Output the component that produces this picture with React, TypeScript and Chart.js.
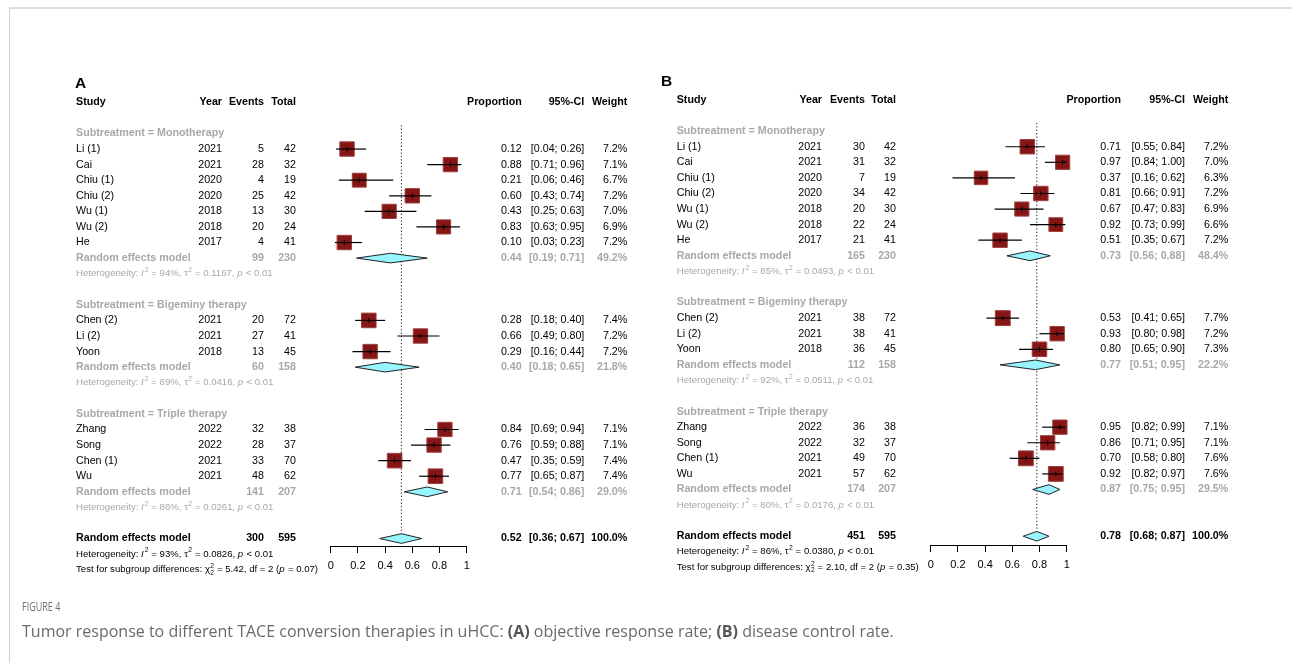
import React, { useEffect, useRef } from "react";
import { Chart, registerables } from "chart.js";
Chart.register(...registerables);

// ---------------- DATA ----------------
const studies = ["Li (1)", "Cai", "Chiu (1)", "Chiu (2)", "Wu (1)", "Wu (2)", "He", "Chen (2)", "Li (2)", "Yoon", "Zhang", "Song", "Chen (1)", "Wu"];
const years = [2021, 2021, 2020, 2020, 2018, 2018, 2017, 2021, 2021, 2018, 2022, 2022, 2021, 2021];
const totals = [42, 32, 19, 42, 30, 24, 41, 72, 41, 45, 38, 37, 70, 62];
const groupNames = ["Monotherapy", "Bigeminy therapy", "Triple therapy"];
const groupSizes = [7, 3, 4];
const subTotals = [230, 158, 207];
const overallTotal = 595;
const axisTicks = [0, 0.2, 0.4, 0.6, 0.8, 1];

// Panel A: objective response rate
const eventsA = [5, 28, 4, 25, 13, 20, 4, 20, 27, 13, 32, 28, 33, 48];
const propA = [0.12, 0.88, 0.21, 0.60, 0.43, 0.83, 0.10, 0.28, 0.66, 0.29, 0.84, 0.76, 0.47, 0.77];
const loA = [0.04, 0.71, 0.06, 0.43, 0.25, 0.63, 0.03, 0.18, 0.49, 0.16, 0.69, 0.59, 0.35, 0.65];
const hiA = [0.26, 0.96, 0.46, 0.74, 0.63, 0.95, 0.23, 0.40, 0.80, 0.44, 0.94, 0.88, 0.59, 0.87];
const weightA = [7.2, 7.1, 6.7, 7.2, 7.0, 6.9, 7.2, 7.4, 7.2, 7.2, 7.1, 7.1, 7.4, 7.4];
const subEventsA = [99, 60, 141];
const subPropA = [0.44, 0.40, 0.71];
const subLoA = [0.19, 0.18, 0.54];
const subHiA = [0.71, 0.65, 0.86];
const subWeightA = [49.2, 21.8, 29.0];
const subI2A = ["94%", "89%", "86%"];
const subTau2A = ["0.1167", "0.0416", "0.0261"];
const overallA = [300, 0.52, 0.36, 0.67, 100.0]; // events, prop, lo, hi, weight
const overallHetA = ["93%", "0.0826"];
const testA = ["5.42", "2", "0.07"]; // chi2, df, p

// Panel B: disease control rate
const eventsB = [30, 31, 7, 34, 20, 22, 21, 38, 38, 36, 36, 32, 49, 57];
const propB = [0.71, 0.97, 0.37, 0.81, 0.67, 0.92, 0.51, 0.53, 0.93, 0.80, 0.95, 0.86, 0.70, 0.92];
const loB = [0.55, 0.84, 0.16, 0.66, 0.47, 0.73, 0.35, 0.41, 0.80, 0.65, 0.82, 0.71, 0.58, 0.82];
const hiB = [0.84, 1.00, 0.62, 0.91, 0.83, 0.99, 0.67, 0.65, 0.98, 0.90, 0.99, 0.95, 0.80, 0.97];
const weightB = [7.2, 7.0, 6.3, 7.2, 6.9, 6.6, 7.2, 7.7, 7.2, 7.3, 7.1, 7.1, 7.6, 7.6];
const subEventsB = [165, 112, 174];
const subPropB = [0.73, 0.77, 0.87];
const subLoB = [0.56, 0.51, 0.75];
const subHiB = [0.88, 0.95, 0.95];
const subWeightB = [48.4, 22.2, 29.5];
const subI2B = ["85%", "92%", "80%"];
const subTau2B = ["0.0493", "0.0511", "0.0176"];
const overallB = [451, 0.78, 0.68, 0.87, 100.0];
const overallHetB = ["86%", "0.0380"];
const testB = ["2.10", "2", "0.35"];

// ---------------- STYLE / LAYOUT ----------------
const FAM = "'Liberation Sans', Arial, Helvetica, sans-serif";
const GRAY = "#a8a8a8";
const ROW = 15.58;
const CW = 646;
const CH = 663;

const geomA = { left: 0, label: "A", labelX: 75, top: 102.3, axisY: 546, ax0: 330.7, ax1: 466.7, studyX: 76, yearR: 222, evR: 264, totR: 296, propR: 521.7, ciR: 584.3, wR: 627.3 };
const geomB = { left: 600, label: "B", labelX: 61, top: 100, axisY: 545, ax0: 330.7, ax1: 466.7, studyX: 76.7, yearR: 222, evR: 265, totR: 296, propR: 521, ciR: 585, wR: 628.3 };

const panelA = { events: eventsA, prop: propA, lo: loA, hi: hiA, weight: weightA, subEvents: subEventsA, subProp: subPropA, subLo: subLoA, subHi: subHiA, subWeight: subWeightA, subI2: subI2A, subTau2: subTau2A, overall: overallA, overallHet: overallHetA, test: testA };
const panelB = { events: eventsB, prop: propB, lo: loB, hi: hiB, weight: weightB, subEvents: subEventsB, subProp: subPropB, subLo: subLoB, subHi: subHiB, subWeight: subWeightB, subI2: subI2B, subTau2: subTau2B, overall: overallB, overallHet: overallHetB, test: testB };

function computeRows() {
  const groups: any[] = [];
  const studyRow: number[] = [];
  let r = 2;
  let s = 0;
  groupSizes.forEach((n) => {
    const g: any = { head: r, re: r + 1 + n, het: r + 2 + n };
    for (let k = 0; k < n; k++) studyRow[s++] = r + 1 + k;
    groups.push(g);
    r = r + n + 4;
  });
  return { groups, studyRow, overall: r, overallHet: r + 1, test: r + 2 };
}

function font(size: number, bold = false, italic = false) {
  return `${italic ? "italic " : ""}${bold ? "bold " : ""}${size}px ${FAM}`;
}

function txt(ctx: CanvasRenderingContext2D, s: string, x: number, y: number, align: CanvasTextAlign, f: string, color: string) {
  ctx.font = f;
  ctx.fillStyle = color;
  ctx.textAlign = align;
  ctx.textBaseline = "middle";
  ctx.fillText(s, x, y);
}

type Run = { t?: string; it?: boolean; sup?: string; sub?: string };
function rich(ctx: CanvasRenderingContext2D, runs: Run[], x: number, y: number, size: number, color: string) {
  ctx.fillStyle = color;
  ctx.textBaseline = "middle";
  ctx.textAlign = "left";
  let cx = x;
  for (const r of runs) {
    if (r.t !== undefined) {
      ctx.font = font(size, false, !!r.it);
      ctx.fillText(r.t, cx, y);
      cx += ctx.measureText(r.t).width + (r.it ? 0.6 : 0);
    } else {
      const ss = size * 0.7;
      ctx.font = font(ss);
      let w = 0;
      if (r.sup) {
        ctx.fillText(r.sup, cx + 0.4, y - size * 0.38);
        w = Math.max(w, ctx.measureText(r.sup).width);
      }
      if (r.sub) {
        ctx.fillText(r.sub, cx + 0.4, y + size * 0.32);
        w = Math.max(w, ctx.measureText(r.sub).width);
      }
      cx += w + 0.6;
    }
  }
}

const f2 = (v: number) => v.toFixed(2);
const ci = (lo: number, hi: number) => `[${f2(lo)}; ${f2(hi)}]`;
const pct = (w: number) => `${w.toFixed(1)}%`;

function textPlugin(p: any, g: any) {
  return {
    id: "forestText",
    afterDraw(chart: any) {
      const ctx: CanvasRenderingContext2D = chart.ctx;
      const ys = chart.scales.y;
      const Y = (r: number) => ys.getPixelForValue(r);
      const rows = computeRows();
      const S = 10.7;
      ctx.save();
      txt(ctx, g.label, g.labelX, Y(-1.2), "left", font(15.5, true), "#000");
      const hy = Y(0);
      const hb = font(S, true);
      txt(ctx, "Study", g.studyX, hy, "left", hb, "#000");
      txt(ctx, "Year", g.yearR, hy, "right", hb, "#000");
      txt(ctx, "Events", g.evR, hy, "right", hb, "#000");
      txt(ctx, "Total", g.totR, hy, "right", hb, "#000");
      txt(ctx, "Proportion", g.propR, hy, "right", hb, "#000");
      txt(ctx, "95%-CI", g.ciR, hy, "right", hb, "#000");
      txt(ctx, "Weight", g.wR, hy, "right", hb, "#000");
      const reg = font(S);
      let s = 0;
      rows.groups.forEach((grp: any, gi: number) => {
        txt(ctx, `Subtreatment = ${groupNames[gi]}`, g.studyX, Y(grp.head), "left", font(S, true), GRAY);
        for (let k = 0; k < groupSizes[gi]; k++, s++) {
          const y = Y(rows.studyRow[s]);
          txt(ctx, studies[s], g.studyX, y, "left", reg, "#000");
          txt(ctx, String(years[s]), g.yearR, y, "right", reg, "#000");
          txt(ctx, String(p.events[s]), g.evR, y, "right", reg, "#000");
          txt(ctx, String(totals[s]), g.totR, y, "right", reg, "#000");
          txt(ctx, f2(p.prop[s]), g.propR, y, "right", reg, "#000");
          txt(ctx, ci(p.lo[s], p.hi[s]), g.ciR, y, "right", reg, "#000");
          txt(ctx, pct(p.weight[s]), g.wR, y, "right", reg, "#000");
        }
        const y = Y(grp.re);
        const gb = font(S, true);
        txt(ctx, "Random effects model", g.studyX, y, "left", gb, GRAY);
        txt(ctx, String(p.subEvents[gi]), g.evR, y, "right", gb, GRAY);
        txt(ctx, String(subTotals[gi]), g.totR, y, "right", gb, GRAY);
        txt(ctx, f2(p.subProp[gi]), g.propR, y, "right", gb, GRAY);
        txt(ctx, ci(p.subLo[gi], p.subHi[gi]), g.ciR, y, "right", gb, GRAY);
        txt(ctx, pct(p.subWeight[gi]), g.wR, y, "right", gb, GRAY);
        rich(ctx, [{ t: "Heterogeneity: " }, { t: "I", it: true }, { sup: "2" }, { t: ` = ${p.subI2[gi]}, ` }, { t: "\u03c4" }, { sup: "2" }, { t: ` = ${p.subTau2[gi]}, ` }, { t: "p", it: true }, { t: " < 0.01" }], g.studyX, Y(grp.het), 9.6, GRAY);
      });
      const oy = Y(rows.overall);
      const ob = font(S, true);
      txt(ctx, "Random effects model", g.studyX, oy, "left", ob, "#000");
      txt(ctx, String(p.overall[0]), g.evR, oy, "right", ob, "#000");
      txt(ctx, String(overallTotal), g.totR, oy, "right", ob, "#000");
      txt(ctx, f2(p.overall[1]), g.propR, oy, "right", ob, "#000");
      txt(ctx, ci(p.overall[2], p.overall[3]), g.ciR, oy, "right", ob, "#000");
      txt(ctx, pct(p.overall[4]), g.wR, oy, "right", ob, "#000");
      rich(ctx, [{ t: "Heterogeneity: " }, { t: "I", it: true }, { sup: "2" }, { t: ` = ${p.overallHet[0]}, ` }, { t: "\u03c4" }, { sup: "2" }, { t: ` = ${p.overallHet[1]}, ` }, { t: "p", it: true }, { t: " < 0.01" }], g.studyX, Y(rows.overallHet), 9.6, "#000");
      rich(ctx, [{ t: "Test for subgroup differences: " }, { t: "\u03c7" }, { sup: "2", sub: "2" }, { t: ` = ${p.test[0]}, df = ${p.test[1]} (` }, { t: "p", it: true }, { t: ` = ${p.test[2]})` }], g.studyX, Y(rows.test), 9.6, "#000");
      ctx.restore();
    },
  };
}

function buildConfig(p: any, g: any) {
  const rows = computeRows();
  const datasets: any[] = [];
  const base = { showLine: true, pointRadius: 0, clip: false, tension: 0 };
  datasets.push({ ...base, data: [{ x: p.overall[1], y: 1.47 }, { x: p.overall[1], y: rows.overall - 0.3 }], borderColor: "#3a3a3a", borderWidth: 1.1, borderDash: [1.3, 2.1], fill: false, order: 6 });
  const dia = (est: number, lo: number, hi: number, r: number) => [
    { x: lo, y: r }, { x: est, y: r - 0.31 }, { x: hi, y: r }, { x: est, y: r + 0.31 }, { x: lo, y: r },
  ];
  rows.groups.forEach((grp: any, gi: number) => {
    datasets.push({ ...base, data: dia(p.subProp[gi], p.subLo[gi], p.subHi[gi], grp.re), fill: "shape", backgroundColor: "#98F5FF", borderColor: "#222", borderWidth: 1, order: 5 });
  });
  datasets.push({ ...base, data: dia(p.overall[1], p.overall[2], p.overall[3], rows.overall), fill: "shape", backgroundColor: "#98F5FF", borderColor: "#222", borderWidth: 1, order: 5 });
  const pts = studies.map((_, i) => ({ x: p.prop[i], y: rows.studyRow[i] }));
  datasets.push({ data: pts, showLine: false, clip: false, pointStyle: "rect", pointRadius: p.weight.map((w: number) => 3.8 * Math.sqrt(w)), pointBackgroundColor: "#861616", pointBorderColor: "#9e4040", pointBorderWidth: 1, order: 3 });
  studies.forEach((_, i) => {
    datasets.push({ ...base, data: [{ x: p.lo[i], y: rows.studyRow[i] }, { x: p.hi[i], y: rows.studyRow[i] }], borderColor: "#000", borderWidth: 1.2, fill: false, order: 2 });
  });
  datasets.push({ data: pts, showLine: false, clip: false, pointStyle: "line", pointRotation: 90, pointRadius: 2.3, pointBorderColor: "#000", pointBorderWidth: 1, order: 1 });

  const ymax = (g.axisY - g.top) / ROW;
  return {
    type: "scatter",
    data: { datasets },
    plugins: [textPlugin(p, g)],
    options: {
      responsive: false,
      animation: false,
      devicePixelRatio: 1,
      events: [],
      layout: { padding: { left: g.ax0, right: CW - g.ax1, top: g.top, bottom: 0 } },
      plugins: { legend: { display: false }, tooltip: { enabled: false } },
      scales: {
        x: {
          type: "linear",
          position: "bottom",
          min: 0,
          max: 1,
          afterBuildTicks: (sc: any) => { sc.ticks = axisTicks.map((v) => ({ value: v })); },
          afterFit: (sc: any) => { sc.height = CH - g.axisY; },
          ticks: {
            color: "#000",
            padding: 6,
            maxRotation: 0,
            autoSkip: false,
            font: { family: FAM, size: 11 },
            callback: (v: any) => String(Math.round(Number(v) * 10) / 10),
          },
          grid: { drawOnChartArea: false, drawTicks: true, tickLength: 7, color: "#000", lineWidth: 1 },
          border: { display: true, color: "#000", width: 1 },
        },
        y: { type: "linear", display: false, reverse: true, min: 0, max: ymax },
      },
    },
  };
}

function Panel({ p, g }: { p: any; g: any }) {
  const ref = useRef<HTMLCanvasElement>(null);
  useEffect(() => {
    if (!ref.current) return;
    const chart = new Chart(ref.current, buildConfig(p, g) as any);
    return () => chart.destroy();
  }, []);
  return <canvas ref={ref} width={CW} height={CH} style={{ position: "absolute", left: g.left, top: 0, width: CW, height: CH }} />;
}

export default function App() {
  return (
    <div style={{ position: "absolute", left: 0, top: 0, width: 1292, height: 663, overflow: "hidden", background: "#fff" }}>
      <div style={{ position: "absolute", left: 9, top: 7, width: 1400, height: 700, borderTop: "2px solid #dcdcdc", borderLeft: "1px solid #cfcfcf" }} />
      <Panel p={panelA} g={geomA} />
      <Panel p={panelB} g={geomB} />
      <div style={{ position: "absolute", left: 22, top: 599, fontFamily: "'Open Sans', sans-serif", fontSize: 12.5, lineHeight: "15px", color: "#707070", transform: "scaleX(0.72)", transformOrigin: "left center", whiteSpace: "nowrap" }}>FIGURE 4</div>
      <div style={{ position: "absolute", left: 22, top: 621, fontFamily: "'Open Sans', sans-serif", fontSize: 16, lineHeight: "20px", color: "#6a6a6a", whiteSpace: "nowrap" }}>
        Tumor response to different TACE conversion therapies in uHCC: <b style={{ color: "#555" }}>(A)</b> objective response rate; <b style={{ color: "#555" }}>(B)</b> disease control rate.
      </div>
    </div>
  );
}
